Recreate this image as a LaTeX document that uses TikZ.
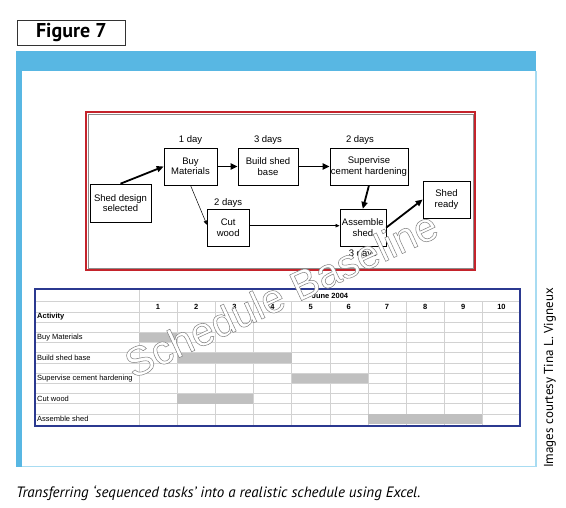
\documentclass[tikz,border=0pt]{standalone}
\usepackage{fontspec}
\setmainfont{Liberation Sans}
\newfontfamily\capfont{PT Sans}
\usetikzlibrary{arrows.meta, positioning}
\definecolor{framebl}{HTML}{58B7E3}
\definecolor{framelt}{HTML}{A8DCF2}
\definecolor{netred}{HTML}{C4232B}
\definecolor{tabblue}{HTML}{2B3990}
\definecolor{gridgr}{HTML}{D2D2D2}
\definecolor{bargr}{HTML}{C0C0C0}
% outlined text: white fill, grey stroke
\newcommand{\outlinetext}[1]{\color{white}\special{pdf:literal direct 0.5 G 0.5 w 2 Tr}#1\special{pdf:literal direct 0 Tr}}

\begin{document}
\begin{tikzpicture}[
        x=1pt, y=-1pt,
        task/.style={draw, line width=0.6pt, align=center, inner sep=1pt, font=\fontsize{9.5}{10.5}\selectfont},
        dur/.style={inner sep=1pt, font=\fontsize{9.5}{10.5}\selectfont},
        crit/.style={line width=1.8pt, -{Triangle[length=7pt, width=6pt]}},
        link/.style={line width=0.5pt, -{Triangle[length=4pt, width=3.5pt]}},
        gridline/.style={draw=gridgr, line width=0.5pt},
        cell/.style={inner sep=1pt, font=\fontsize{7.5}{8.5}\selectfont},
        hdr/.style={inner sep=1pt, font=\fontsize{7.5}{8.5}\selectfont\bfseries},
        bar/.style={fill=bargr}
    ]
        \useasboundingbox (0,0) rectangle (566,508);

        % title and frame
        \node[draw=black!80, line width=0.8pt, minimum width=108, minimum height=25, inner sep=0pt,
              font=\capfont\bfseries\fontsize{20}{22}\selectfont] (figlabel) at (71.3,32.5) {Figure 7};
        \fill[framebl] (16,51) rectangle (536,71);
        \fill[framebl] (16,51) rectangle (21.5,467);
        \draw[framelt, line width=1.8pt] (21.5,466.5) -- (535.8,466.5) -- (535.8,71);

        % network diagram
        \draw[netred, line width=2.5pt] (86,112) rectangle (475,270);
        \draw[black!45, line width=0.4pt] (88,114) rectangle (473,268);

        \node[task, minimum width=61, minimum height=38] (design) at (120.5,203) {Shed design\\selected};
        \node[task, minimum width=53, minimum height=37] (buy) at (190.5,166.5) {Buy\\Materials};
        \node[task, minimum width=60, minimum height=37] (base) at (268,166.5) {Build shed\\base};
        \node[task, minimum width=78, minimum height=37] (cement) at (369,166.5) {Supervise\\cement hardening};
        \node[task, minimum width=42, minimum height=37] (cut) at (228.2,227.7) {Cut\\wood};
        \node[task, minimum width=46, minimum height=37] (assemble) at (362.8,227.7) {Assemble\\shed};
        \node[task, minimum width=47, minimum height=37] (ready) at (446.5,199.5) {Shed\\ready};

        \node[dur, above=2pt of buy] (buyd) {1 day};
        \node[dur, above=2pt of base] (based) {3 days};
        \node[dur, above=2pt of cement, xshift=-9pt] (cementd) {2 days};
        \node[dur, above=0pt of cut] (cutd) {2 days};
        \node[dur, below=2pt of assemble] (assembled) {3 days};

        \draw[crit] (design.north) -- (buy.west);
        \draw[crit] (buy) -- (base);
        \draw[crit] (base) -- (cement);
        \draw[crit] (cement.south) -- (assemble.north);
        \draw[crit] (assemble.east) -- (ready.west);
        \draw[link] (buy.south) -- ([yshift=3pt]cut.west);
        \draw[link] ([yshift=2pt]cut.east) -- ([yshift=2pt]assemble.west);

        % schedule table
        \foreach \r in {1,...,12}
            \draw[gridline] (35,{291.5+\r*10.2}) -- (520,{291.5+\r*10.2});
        \draw[gridline] (139,289) -- (139,426);
        \foreach \k in {1,...,9}
            \draw[gridline] ({139+\k*38.15},301.7) -- ({139+\k*38.15},426);
        \foreach \s/\e/\r in {1/1/4, 2/4/6, 5/6/8, 2/3/10, 7/9/12}
            \fill[bar] ({139+(\s-1)*38.15},{292+\r*10.2}) rectangle ({139+\e*38.15},{291.5+(\r+1)*10.2});
        \draw[tabblue, line width=1.5pt] (35,289) rectangle (520,426);

        \node[hdr] (month) at (330,296.3) {June 2004};
        \foreach \d in {1,...,10}
            \node[hdr] (day\d) at ({139+(\d-0.5)*38.15},306.8) {\d};
        \node[hdr, anchor=west] (activity) at (36,317) {Activity};
        \foreach \r/\t [count=\i] in {4/Buy Materials, 6/Build shed base, 8/Supervise cement hardening, 10/Cut wood, 12/Assemble shed}
            \node[cell, anchor=west] (act\i) at (36,{296.6+\r*10.2}) {\t};

        % watermark
        \node[rotate=25, inner sep=0pt, font=\fontsize{41}{41}\selectfont] (mark) at (281,294)
            {\outlinetext{Schedule Baseline}};

        % caption and credit
        \node[anchor=base west, inner sep=0pt, font=\capfont\itshape\fontsize{15}{18}\selectfont] (caption) at (16,497)
            {Transferring ‘sequenced tasks’ into a realistic schedule using Excel.};
        \node[rotate=90, anchor=base west, inner sep=0pt, font=\capfont\fontsize{13}{15}\selectfont] (credit) at (553,468)
            {Images courtesy Tina L. Vigneux};
    \end{tikzpicture}
\end{document}
